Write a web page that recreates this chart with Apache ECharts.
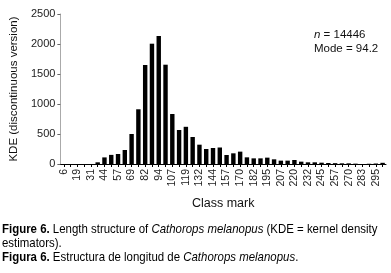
<!DOCTYPE html>
<html>
<head>
<meta charset="utf-8">
<script src="https://cdn.jsdelivr.net/npm/echarts@6/dist/echarts.min.js"></script>
<style>
  html, body { margin: 0; padding: 0; background: #fff; }
  #chart { width: 391px; height: 273px; }
</style>
</head>
<body>
<div id="chart"></div>
<script>
// class marks (mm), one bar each; only every other one is labelled
var classMarks = ['6', '13', '19', '25', '31', '38', '44', '50', '57', '63',
    '69', '75', '82', '88', '94', '100', '107', '113', '119', '126',
    '132', '138', '144', '151', '157', '163', '170', '176', '182', '188',
    '195', '201', '207', '214', '220', '226', '232', '239', '245', '251',
    '257', '264', '270', '276', '283', '289', '295', '301'];

// KDE (discontinuous version)
var kdeValues = [0, 0, 0, 0, 0, 28, 110, 152, 167, 233,
    500, 912, 1650, 2005, 2135, 1655, 833, 567, 620, 450,
    322, 250, 267, 275, 150, 178, 206, 111, 94, 94,
    106, 78, 56, 56, 67, 39, 28, 28, 22, 17,
    14, 11, 11, 6, 0, 4, 8, 20];

var yTicks = [0, 2500, 500]; // min, max, step

var sans = "'Liberation Sans', Arial, sans-serif";

var mcharts = echarts.init(document.getElementById('chart'), null, {renderer: 'canvas'});

var option = {
    animation: false,
    textStyle: {
        fontFamily: sans
    },
    grid: {
        left: 50,
        right: 5,
        top: 14,
        bottom: 109
    },
    xAxis: {
        type: 'category',
        data: classMarks,
        name: 'Class mark',
        nameLocation: 'middle',
        nameGap: 33,
        nameTextStyle: {
            fontFamily: sans,
            fontSize: 12.5,
            color: '#111'
        },
        axisLine: {
            lineStyle: {color: '#000', width: 1}
        },
        axisTick: {
            show: true,
            alignWithLabel: true,
            interval: 0,
            length: 3,
            lineStyle: {color: '#000'}
        },
        axisLabel: {
            interval: 1,
            rotate: 90,
            fontSize: 10.5,
            margin: 5,
            color: '#222',
            fontFamily: sans
        }
    },
    yAxis: {
        type: 'value',
        min: yTicks[0],
        max: yTicks[1],
        interval: yTicks[2],
        name: 'KDE (discontinuous version)',
        nameLocation: 'middle',
        nameRotate: 90,
        nameGap: 33,
        nameTextStyle: {
            fontFamily: sans,
            fontSize: 11.5,
            color: '#111'
        },
        axisLine: {
            show: true,
            lineStyle: {color: '#aaa', width: 1}
        },
        axisTick: {
            show: true,
            length: 3,
            lineStyle: {color: '#666'}
        },
        splitLine: {show: false},
        axisLabel: {
            fontSize: 11,
            margin: 5,
            color: '#222',
            fontFamily: sans,
            formatter: function (v) { return String(v); }
        }
    },
    series: [
        {
            type: 'bar',
            data: kdeValues,
            barWidth: '65%',
            itemStyle: {color: '#000'}
        }
    ],
    graphic: [
        {
            type: 'text',
            left: 314,
            top: 28,
            style: {
                text: '{i|n} = 14446\nMode = 94.2',
                fontFamily: sans,
                fontSize: 11.5,
                lineHeight: 14,
                fill: '#111',
                rich: {
                    i: {fontStyle: 'italic', fontFamily: sans, fontSize: 11.5}
                }
            }
        },
        {
            type: 'text',
            x: 2,
            y: 222,
            scaleX: 0.88,
            style: {
                text: '{b|Figure 6.} Length structure of {i|Cathorops melanopus} (KDE = kernel density\nestimators).\n{b|Figura 6.} Estructura de longitud de {i|Cathorops melanopus}.',
                fontFamily: sans,
                fontSize: 13,
                lineHeight: 14,
                fill: '#000',
                rich: {
                    b: {fontWeight: 'bold', fontFamily: sans, fontSize: 13},
                    i: {fontStyle: 'italic', fontFamily: sans, fontSize: 13}
                }
            }
        }
    ]
};

mcharts.setOption(option, true);
</script>
</body>
</html>
